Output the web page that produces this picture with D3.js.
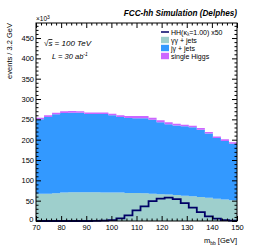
<!DOCTYPE html>
<html><head><meta charset="utf-8">
<script src="https://cdn.jsdelivr.net/npm/d3@7"></script>
<style>
body{margin:0;background:#fff;}
text{font-family:"Liberation Sans",Arial,sans-serif;fill:#000;}
</style></head>
<body>
<svg id="c" width="258" height="247"></svg>
<script>
// bin edges (m_bb, GeV), 3.2 GeV bins
const binEdges = [70,73.2,76.4,79.6,82.8,86,89.2,92.4,95.6,98.8,102,105.2,108.4,111.6,114.8,118,121.2,124.4,127.6,130.8,134,137.2,140.4,143.6,146.8,150];
// events / bin in units of 10^3
const gammaGammaJets = [67,67,68,70,71,71,71,71,70,70,70,69,69,68,67,66,65,64,62,61,59,57,55,53,51];
const jGammaJets = [183,189,194.5,195.7,195.5,195,192,192,193,190,186,184.5,184,185,182,176.6,172.7,171,171,169.5,165.7,158,149,144,139];
const singleHiggs = [4,4,4,4,4,4,4,4,4,4,4,4.5,5,5,5,5,5,4.5,4,4,4,4,4,4,4];
const hhx50 = [0,0,0,0,0,0,0,0.5,1,2,6.5,14,26,36,49,55,57.5,54,44,33,22,11.5,6,2,1];
const xTicks = [70,80,90,100,110,120,130,140,150];
const yTicks = [0,50,100,150,200,250,300,350,400,450];
const legendLabels = ["γγ + jets","jγ + jets","single Higgs"];
const colors = {gg:"#9ecfcc", jg:"#3399ff", sh:"#cc66ff", hh:"#000066"};

const svg = d3.select("#c");
const L=36, R=237, T=23, B=221;
const x = d3.scaleLinear().domain([70,150]).range([L,R]);
const y = d3.scaleLinear().domain([0,487]).range([B,T]);

// stacked data
const rows = gammaGammaJets.map((g,i)=>({i, gg:g, jg:jGammaJets[i], sh:singleHiggs[i]}));
const stack = d3.stack().keys(["gg","jg","sh"]).order(d3.stackOrderNone);
const series = stack(rows);

function stepPts(arr){
  const pts = arr.map((d,i)=>({x:binEdges[i], y0:d[0], y1:d[1]}));
  const last = arr[arr.length-1];
  pts.push({x:binEdges[binEdges.length-1], y0:last[0], y1:last[1]});
  return pts;
}
const area = d3.area().curve(d3.curveStepAfter).x(d=>x(d.x)).y0(d=>y(d.y0)).y1(d=>y(d.y1));
series.forEach(s=>{
  svg.append("path").datum(stepPts(s)).attr("d",area).attr("fill",colors[s.key]);
});

// HH line
const hhPts = hhx50.map((v,i)=>({x:binEdges[i], v}));
hhPts.push({x:150, v:hhx50[hhx50.length-1]});
const line = d3.line().curve(d3.curveStepAfter).x(d=>x(d.x)).y(d=>y(d.v));
svg.append("path").datum(hhPts).attr("d",line).attr("fill","none").attr("stroke",colors.hh).attr("stroke-width",1.8);

// frame
svg.append("rect").attr("x",L).attr("y",T).attr("width",R-L).attr("height",B-T).attr("fill","none").attr("stroke","#000").attr("stroke-width",1);

// axes ticks
const yMinor = d3.range(0,487,10).filter(v=>v%50!==0);
const xMinor = d3.range(70,151,2).filter(v=>v%10!==0);
function styleAxis(g){ g.select(".domain").remove(); g.selectAll("line").attr("stroke","#000"); g.selectAll("text").attr("font-size","7.5px").attr("font-family","Liberation Sans, Arial, sans-serif"); }
svg.append("g").attr("transform",`translate(${L},0)`).call(d3.axisLeft(y).tickValues(yTicks).tickSize(-5).tickPadding(2).tickFormat(d3.format("d"))).call(styleAxis)
  .selectAll(".tick text").filter(d=>d===0).attr("y",-2.2).attr("x",-2.5);
svg.append("g").attr("transform",`translate(${L},0)`).call(d3.axisLeft(y).tickValues(yMinor).tickSize(-2.5).tickFormat("")).call(styleAxis);
svg.append("g").attr("transform",`translate(${R},0)`).call(d3.axisRight(y).tickValues(yTicks).tickSize(-5).tickFormat("")).call(styleAxis);
svg.append("g").attr("transform",`translate(${R},0)`).call(d3.axisRight(y).tickValues(yMinor).tickSize(-2.5).tickFormat("")).call(styleAxis);
svg.append("g").attr("transform",`translate(0,${B})`).call(d3.axisBottom(x).tickValues(xTicks).tickSize(-5).tickPadding(3.5).tickFormat(d3.format("d"))).call(styleAxis);
svg.append("g").attr("transform",`translate(0,${B})`).call(d3.axisBottom(x).tickValues(xMinor).tickSize(-2.5).tickFormat("")).call(styleAxis);
svg.append("g").attr("transform",`translate(0,${T})`).call(d3.axisTop(x).tickValues(xTicks).tickSize(-5).tickFormat("")).call(styleAxis);
svg.append("g").attr("transform",`translate(0,${T})`).call(d3.axisTop(x).tickValues(xMinor).tickSize(-2.5).tickFormat("")).call(styleAxis);

// x10^3
const ex = svg.append("text").attr("x",L).attr("y",21).attr("font-size","6.5px");
ex.append("tspan").text("×10");
ex.append("tspan").attr("dy",-2.5).attr("font-size","5px").text("3");

// title
svg.append("text").attr("x",R).attr("y",16).attr("text-anchor","end").attr("font-size","8.2px").attr("font-weight","bold").attr("font-style","italic").text("FCC-hh Simulation (Delphes)");

// y label
svg.append("text").attr("transform",`translate(12,23) rotate(-90)`).attr("text-anchor","end").attr("font-size","7.5px").text("events / 3.2 GeV");

// x label
const xl = svg.append("text").attr("x",R).attr("y",243).attr("text-anchor","end").attr("font-size","7.5px");
xl.append("tspan").text("m");
xl.append("tspan").attr("dy",1.8).attr("font-size","5px").text("bb");
xl.append("tspan").attr("dy",-1.8).text(" [GeV]");

// sqrt s
const s1 = svg.append("text").attr("x",44).attr("y",46).attr("font-size","8px").attr("font-style","italic");
s1.append("tspan").text("√");
s1.append("tspan").attr("text-decoration","overline").text("s");
s1.append("tspan").text(" = 100 TeV");
const s2 = svg.append("text").attr("x",52).attr("y",58.5).attr("font-size","7.5px").attr("font-style","italic");
s2.append("tspan").text("L = 30 ab");
s2.append("tspan").attr("dy",-3).attr("font-size","5px").text("-1");

// legend
const lx = 161, ly = 32, dy = 8;
svg.append("line").attr("x1",lx).attr("x2",lx+8).attr("y1",ly).attr("y2",ly).attr("stroke",colors.hh).attr("stroke-width",1.5);
const t0 = svg.append("text").attr("x",lx+10).attr("y",ly+2.5).attr("font-size","7px");
t0.append("tspan").text("HH(κ");
t0.append("tspan").attr("dy",1.5).attr("font-size","4.5px").text("λ");
t0.append("tspan").attr("dy",-1.5).text("=1.00) x50");
["gg","jg","sh"].forEach((k,i)=>{
  const yy = ly + dy*(i+1);
  svg.append("rect").attr("x",lx).attr("y",yy-3.2).attr("width",8).attr("height",6.4).attr("fill",colors[k]);
  svg.append("text").attr("x",lx+10).attr("y",yy+2.5).attr("font-size","7px").text(legendLabels[i]);
});
</script>
</body></html>
